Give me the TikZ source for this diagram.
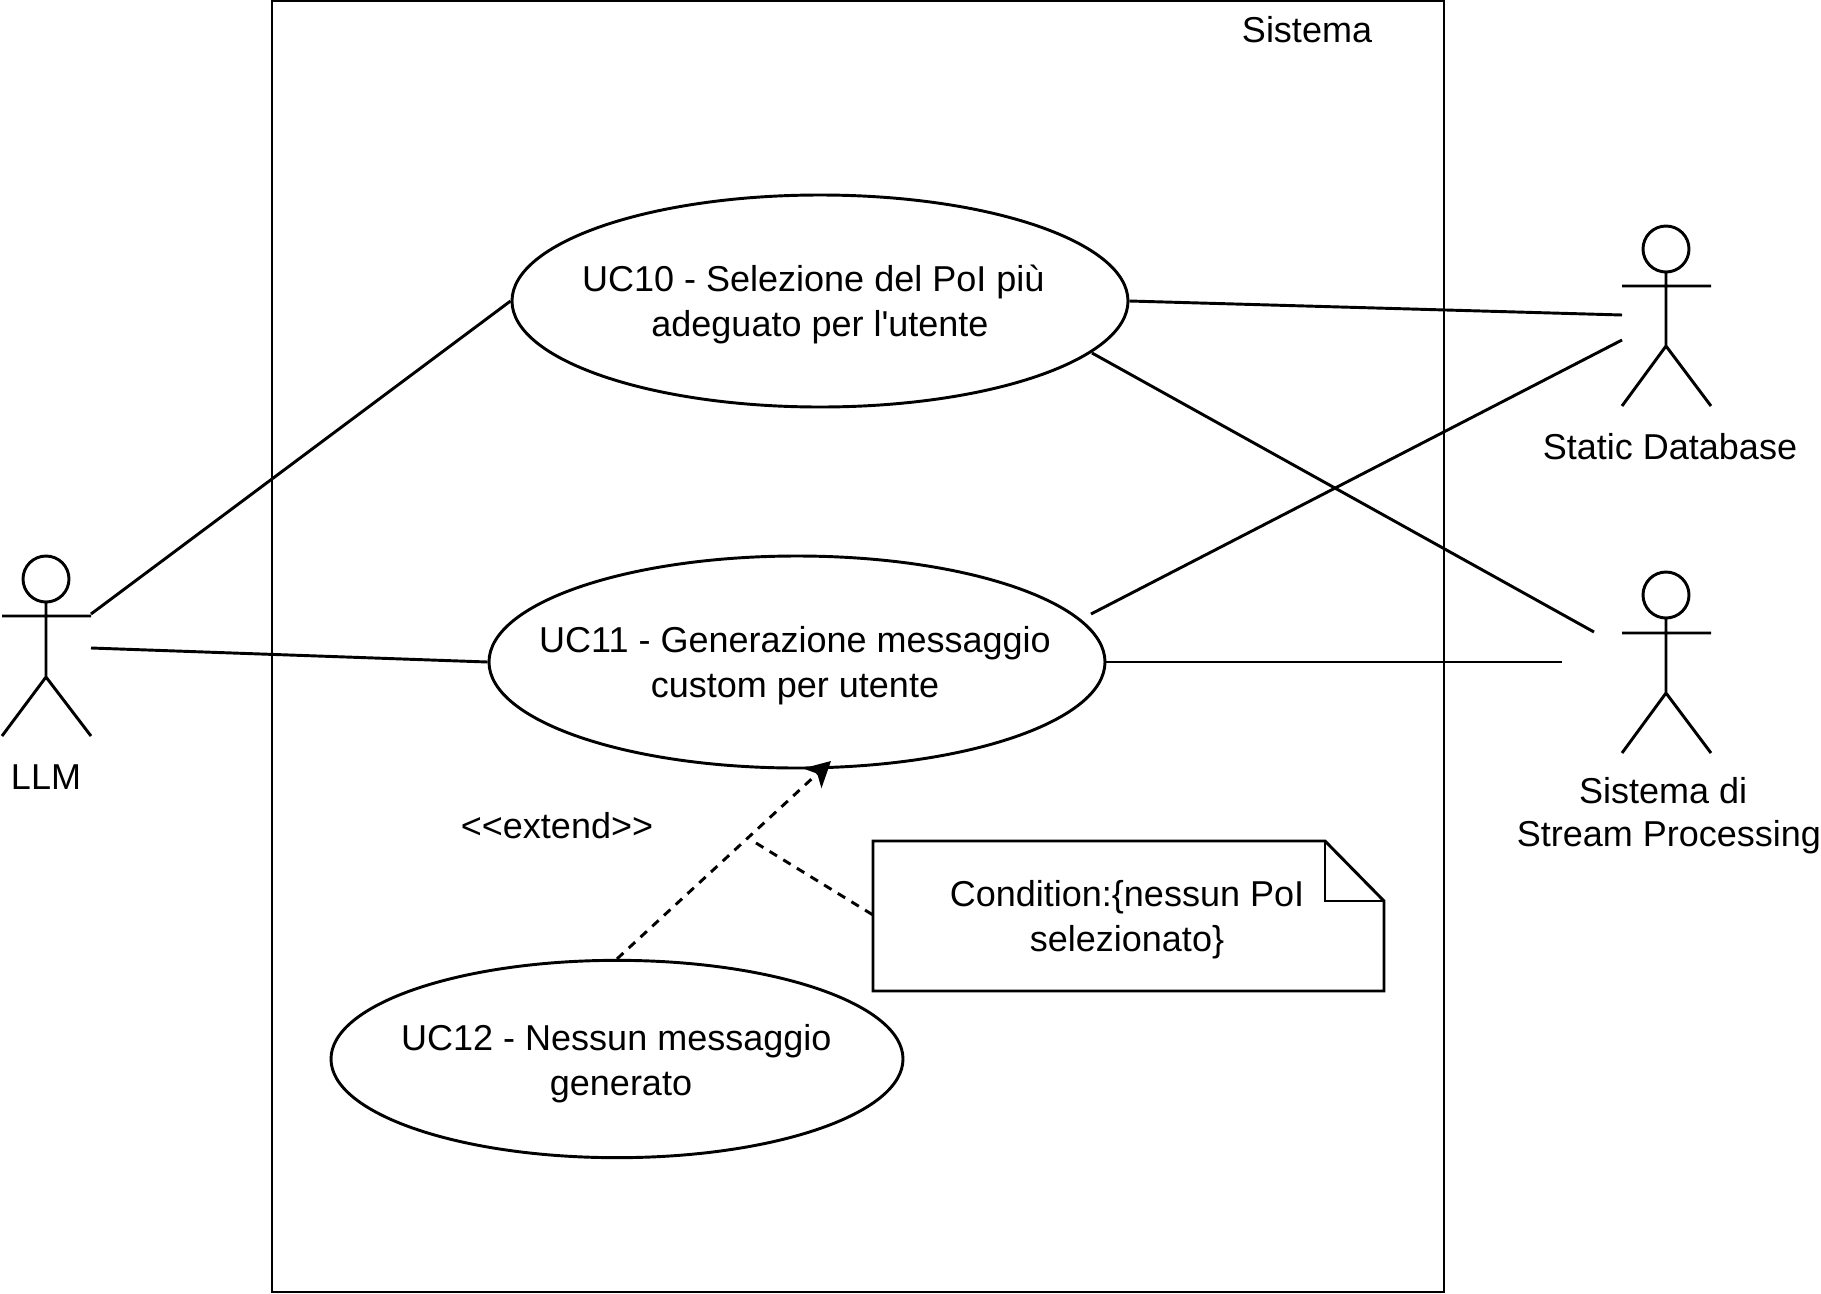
\documentclass[tikz,border=0pt]{standalone}
\usepackage{fontspec}
\setmainfont{Liberation Sans}
\usetikzlibrary{shapes.geometric,arrows.meta}
\tikzset{
  umlline/.style={line width=2.2pt,draw=black},
  usecase/.style={ellipse,umlline,inner sep=0pt},
  umllabel/.style={inner sep=0pt,align=center,font=\fontsize{27}{32}\selectfont},
  casetext/.style={inner sep=0pt,align=center,font=\fontsize{27}{33.75}\selectfont},
  umldash/.style={umlline,dash pattern={on 6.5pt off 5.5pt}}
}
\begin{document}
\begin{tikzpicture}[x=0.75pt,y=0.75pt,yscale=-1,xscale=1]
\useasboundingbox (0,0) rectangle (1821,1293);

%Shape: System boundary
\draw [umlline] (272,1) rectangle (1444,1292);
% Text Node
\node [umllabel] (sistema) at (1307,30) {Sistema};

% Use cases
\node [usecase,minimum width=462pt,minimum height=159pt] (ucten) at (820,301) {};
\node [usecase,minimum width=462pt,minimum height=159pt] (uceleven) at (797,662) {};
\node [usecase,minimum width=429pt,minimum height=148pt] (uctwelve) at (617,1059) {};
% Text Node
\node [casetext] (uctentext) at (820,304.5) {UC10 - Selezione del PoI più\hspace*{10pt}\\adeguato per l\textquotesingle utente};
\node [casetext] (uceleventext) at (795,665.5) {UC11 - Generazione messaggio\\custom per utente};
\node [casetext] (uctwelvetext) at (621,1063.5) {UC12 - Nessun messaggio\hspace*{7pt}\\generato};

%Shape: Actor LLM
\draw [umlline] (46,579) circle (23) (46,602) -- (46,677) (2,616) -- (91,616) (2,736) -- (46,677) -- (91,736);
\node [umllabel] (llm) at (46,777) {LLM};
%Shape: Actor Static Database
\draw [umlline] (1666,249) circle (23) (1666,272) -- (1666,346) (1622,286) -- (1711,286) (1622,406) -- (1666,346) -- (1711,406);
\node [umllabel] (staticdb) at (1670,447) {Static Database};
%Shape: Actor Stream Processing
\draw [umlline] (1666,595) circle (23) (1666,618) -- (1666,693) (1622,633) -- (1711,633) (1622,753) -- (1666,693) -- (1711,753);
\node [umllabel] (streamproc) at (1669,816) {Sistema di\hspace*{8.7pt}\\Stream Processing};

% Connector ends
\coordinate (llmtop) at (91,614);
\coordinate (llmlow) at (91,648);
\coordinate (dbtop) at (1622,315);
\coordinate (dblow) at (1622,340);
\coordinate (streamtop) at (1594,632);
\coordinate (streamlow) at (1562,662);
\coordinate (elevendb) at (1091,614);
\coordinate (tenstream) at (1092,353);
\coordinate (elevenhit) at (831,761);
\coordinate (extendmid) at (756,843);

%Straight Lines
\draw [umlline] (llmtop) -- (ucten.west);
\draw [umlline] (llmlow) -- (uceleven.west);
\draw [umlline] (ucten.east) -- (dbtop);
\draw [umlline] (tenstream) -- (streamtop);
\draw [umlline] (elevendb) -- (dblow);
\draw [umlline] (uceleven.east) -- (streamlow);

% Extend
\draw [umldash,-{Stealth[length=19pt,width=20pt,inset=5pt]}] (uctwelve.north) -- (elevenhit);
\node [umllabel] (extendlab) at (557,826) {<{}<extend>{}>};

%Shape: Note
\draw [umlline,fill=white] (873,841) -- (1325,841) -- (1384,901) -- (1384,991) -- (873,991) -- cycle;
\draw [umlline] (1325,841) -- (1325,901) -- (1384,901);
\node [casetext] (condition) at (1127,920) {Condition:\{nessun PoI\\selezionato\}};
\coordinate (notehit) at (873,915);
\draw [umldash] (extendmid) -- (notehit);

\end{tikzpicture}
\end{document}
